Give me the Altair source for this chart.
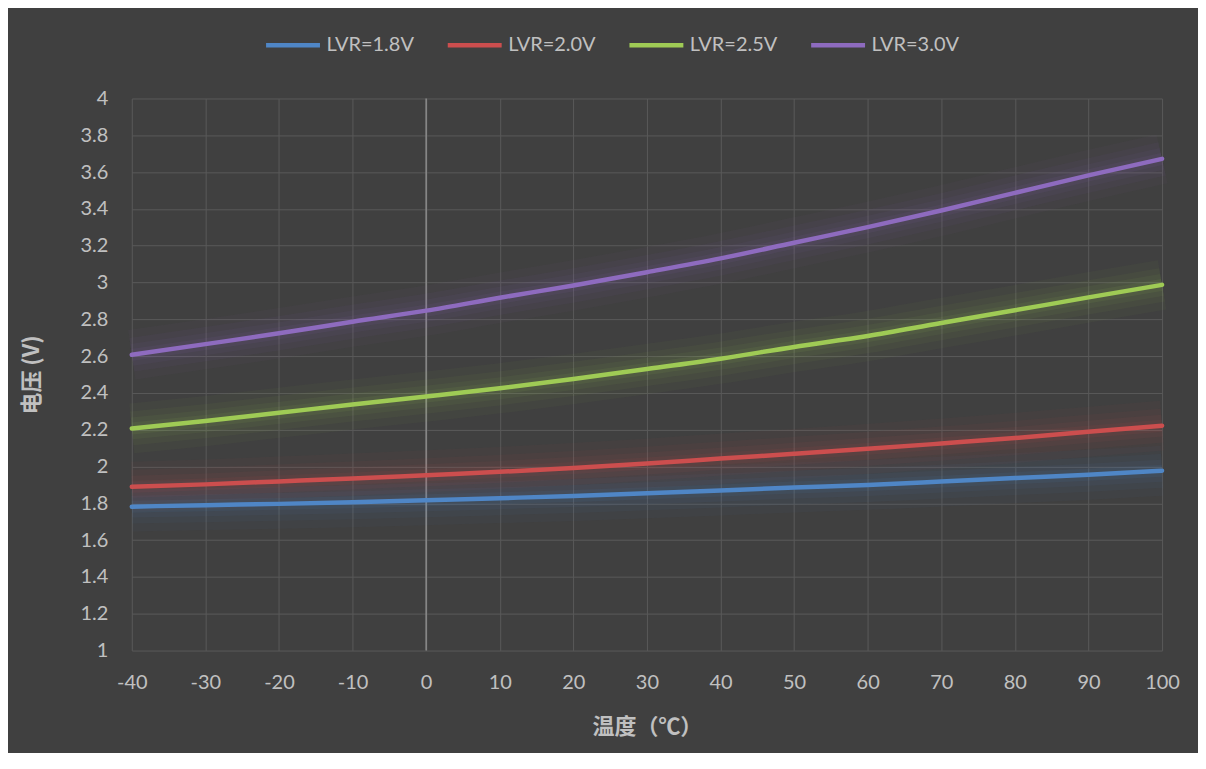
import altair as alt
import pandas as pd

temps = [-40, -30, -20, -10, 0, 10, 20, 30, 40, 50, 60, 70, 80, 90, 100]
lvr_18 = [1.782, 1.790, 1.797, 1.806, 1.817, 1.828, 1.840, 1.855, 1.870, 1.886, 1.900, 1.918, 1.937, 1.955, 1.977]
lvr_20 = [1.890, 1.903, 1.919, 1.935, 1.953, 1.971, 1.992, 2.016, 2.043, 2.069, 2.096, 2.125, 2.155, 2.189, 2.222]
lvr_25 = [2.207, 2.247, 2.292, 2.337, 2.380, 2.425, 2.476, 2.530, 2.586, 2.650, 2.709, 2.780, 2.849, 2.919, 2.987]
lvr_30 = [2.607, 2.665, 2.724, 2.787, 2.847, 2.917, 2.984, 3.056, 3.131, 3.216, 3.301, 3.391, 3.487, 3.582, 3.672]

series_names = ["LVR=1.8V", "LVR=2.0V", "LVR=2.5V", "LVR=3.0V"]
series_colors = ["#4f86c6", "#cc4e4e", "#9fcb55", "#8e6bbf"]
series_values = [lvr_18, lvr_20, lvr_25, lvr_30]

x_ticks = [-40, -30, -20, -10, 0, 10, 20, 30, 40, 50, 60, 70, 80, 90, 100]
y_ticks = [1, 1.2, 1.4, 1.6, 1.8, 2, 2.2, 2.4, 2.6, 2.8, 3, 3.2, 3.4, 3.6, 3.8, 4]

rows = []
for name, vals in zip(series_names, series_values):
    for t, v in zip(temps, vals):
        rows.append({"temp": t, "volt": v, "series": name})
df = pd.DataFrame(rows)

W, H = 1032, 553
LABEL_COLOR = "#c0c0c0"
GRID_COLOR = "#595959"

x_enc = alt.X(
    "temp:Q",
    scale=alt.Scale(domain=[-40, 100], nice=False),
    axis=alt.Axis(
        values=x_ticks, labelExpr="toString(datum.value)", title="温度（℃）",
        labelFlush=False, labelOverlap=False,
        titleX=W / 2, titleY=76, titleBaseline="middle", titleAlign="center",
    ),
)
y_enc = alt.Y(
    "volt:Q",
    scale=alt.Scale(domain=[1, 4], nice=False, zero=False),
    axis=alt.Axis(
        values=y_ticks, format=".1~f", title="电压 (V)",
        labelFlush=False, labelOverlap=False,
        titleX=-100, titleY=H / 2, titleAngle=-90, titleAlign="center",
        titleBaseline="middle",
    ),
)
color_enc = alt.Color(
    "series:N",
    scale=alt.Scale(domain=series_names, range=series_colors),
    legend=alt.Legend(
        title=None, orient="none", legendX=132, legendY=-83,
        direction="horizontal", columns=4, symbolType="stroke",
        symbolSize=2916, symbolStrokeWidth=4.5, symbolOpacity=1,
        columnPadding=24, labelOffset=4, labelFontSize=20, labelFont="Lato",
        labelColor=LABEL_COLOR,
    ),
)

base = alt.Chart(df)

glows = []
for sw, op in [(50, 0.04), (34, 0.05), (22, 0.06), (12, 0.08)]:
    glows.append(
        base.mark_line(interpolate="monotone", strokeWidth=sw, opacity=op, strokeCap="butt")
        .encode(x=x_enc, y=y_enc, color=color_enc, detail="series:N")
    )

zero_df = pd.DataFrame({"temp": [0]})
zero_line = alt.Chart(zero_df).mark_rule(color="#8c8c8c", strokeWidth=1.5).encode(
    x=alt.X("temp:Q", scale=alt.Scale(domain=[-40, 100], nice=False))
)

lines = base.mark_line(interpolate="monotone", strokeWidth=4.5, strokeCap="round").encode(
    x=x_enc, y=y_enc, color=color_enc
)

chart = alt.layer(zero_line, *glows, lines).properties(
    width=W, height=H,
    background="#404040",
    padding={"left": 124, "top": 90, "right": 36, "bottom": 102},
    autosize=alt.AutoSizeParams(type="none"),
).configure_view(stroke=None).configure_axis(
    domain=False, ticks=False, grid=True, gridColor=GRID_COLOR, gridWidth=1,
    labelColor=LABEL_COLOR, labelFontSize=20, labelFont="Lato", labelPadding=24,
    titleColor=LABEL_COLOR, titleFontSize=22, titleFont="Noto Sans CJK SC",
    titleFontWeight="bold",
).configure_axisX(labelPadding=22)

chart.save("out.html", embed_options={"renderer": "svg", "actions": False})
